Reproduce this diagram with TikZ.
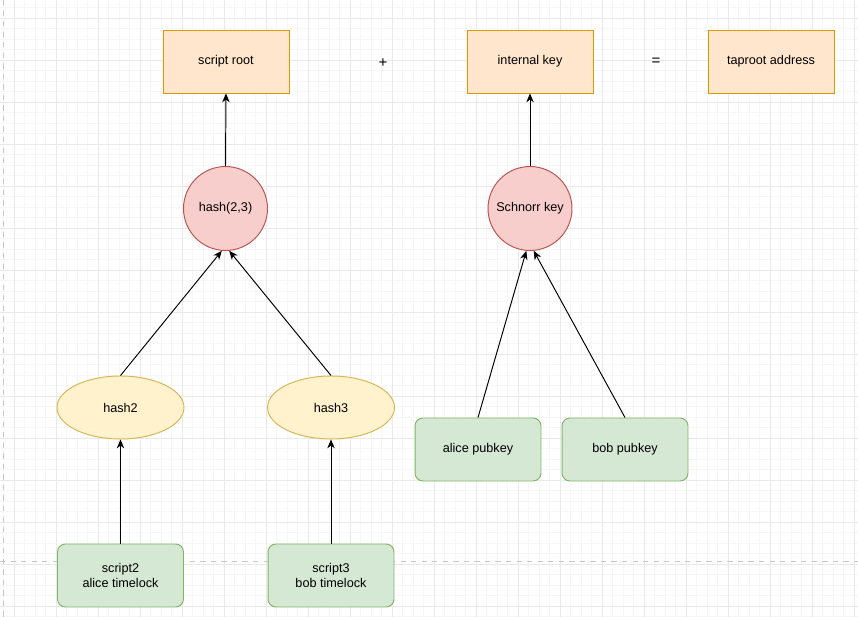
\documentclass[tikz,border=0pt]{standalone}
\usepackage{fontspec}
\setmainfont{Liberation Sans}
\usetikzlibrary{shapes.geometric, arrows.meta}

\definecolor{boxfill}{HTML}{FFE6CC}
\definecolor{boxline}{HTML}{D79B00}
\definecolor{hashfill}{HTML}{F8CECC}
\definecolor{hashline}{HTML}{B85450}
\definecolor{leaffill}{HTML}{FFF2CC}
\definecolor{leafline}{HTML}{D6B656}
\definecolor{keyfill}{HTML}{D5E8D4}
\definecolor{keyline}{HTML}{82B366}

\begin{document}
\begin{tikzpicture}[x=0.02cm, y=-0.02cm,
  every node/.style={font=\fontsize{7.2}{8.8}\selectfont, align=center},
  result/.style={draw=boxline, fill=boxfill, line width=0.55pt,
    minimum width=2.52cm, minimum height=1.26cm, inner sep=0pt},
  hashnode/.style={circle, draw=hashline, fill=hashfill, line width=0.55pt,
    minimum size=1.68cm, inner sep=0pt},
  leaf/.style={ellipse, draw=leafline, fill=leaffill, line width=0.55pt,
    minimum width=2.54cm, minimum height=1.26cm, inner sep=0pt},
  keybox/.style={rounded corners=4.5pt, draw=keyline, fill=keyfill, line width=0.55pt,
    minimum width=2.52cm, minimum height=1.26cm, inner sep=0pt},
  sign/.style={font=\fontsize{8.6}{9}\selectfont},
  link/.style={-{Stealth[length=5pt, width=4.2pt, inset=1.5pt]}, line width=0.55pt}]
  \useasboundingbox[fill=white] (0,0) rectangle (858,617);

  \foreach \gx in {3.5,14,...,858}
    \draw[gray!7, line width=0.4pt] (\gx,0) -- (\gx,617);
  \foreach \gy in {7.5,18,...,617}
    \draw[gray!7, line width=0.4pt] (0,\gy) -- (858,\gy);
  \foreach \gx in {14,56,...,858}
    \draw[gray!17, line width=0.45pt] (\gx,0) -- (\gx,617);
  \foreach \gy in {18,60,...,617}
    \draw[gray!17, line width=0.45pt] (0,\gy) -- (858,\gy);
  \draw[gray!45, dashed, line width=0.45pt] (3,0) -- (3,617);
  \draw[gray!45, dashed, line width=0.45pt] (0,561) -- (858,561);

  \node[result] (scriptroot) at (226,61.5) {script root};
  \node[sign] (plus) at (383,63) {+};
  \node[result] (internalkey) at (530,61.5) {internal key};
  \node[sign] (equals) at (656,62) {=};
  \node[result] (taproot) at (771,61.5) {taproot address};

  \node[hashnode] (hash23) at (225.5,208.5) {hash(2,3)};
  \node[hashnode] (schnorr) at (530,208.5) {Schnorr key};

  \node[leaf] (hash2) at (120.5,407.5) {hash2};
  \node[leaf] (hash3) at (331,407.5) {hash3};

  \node[keybox] (script2) at (120.5,575.5) {script2\\alice timelock};
  \node[keybox] (script3) at (331,575.5) {script3\\bob timelock};
  \node[keybox] (alicekey) at (478,449.5) {alice pubkey};
  \node[keybox] (bobkey) at (625,449.5) {bob pubkey};

  \draw[link] (hash23.north) -- (scriptroot.south);
  \draw[link] (schnorr.north) -- (internalkey.south);
  \draw[link] (hash2.north) -- (hash23.-95);
  \draw[link] (hash3.north) -- (hash23.-85);
  \draw[link] (script2.north) -- (hash2.south);
  \draw[link] (script3.north) -- (hash3.south);
  \draw[link] (alicekey.north) -- (schnorr.-95);
  \draw[link] (bobkey.north) -- (schnorr.-85);

\end{tikzpicture}
\end{document}
